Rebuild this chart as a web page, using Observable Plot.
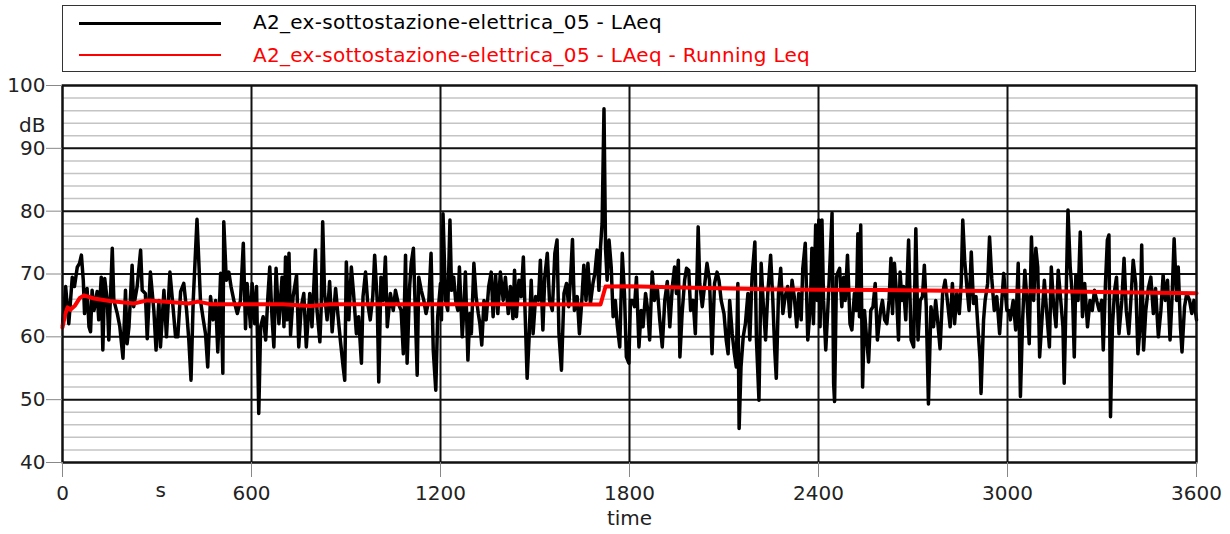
<!DOCTYPE html>
<html>
<head>
<meta charset="utf-8">
<script src="https://cdn.jsdelivr.net/npm/d3@7"></script>
<script src="https://cdn.jsdelivr.net/npm/@observablehq/plot@0.6"></script>
<style>
  html, body { margin: 0; padding: 0; background: #fff; }
  body { width: 1230px; height: 534px; position: relative; overflow: hidden; font-family: "DejaVu Sans", sans-serif; }
  #legend { position: absolute; left: 62px; top: 5px; width: 1132px; height: 65px; border: 1.5px solid #333; box-sizing: content-box; }
  .lg-row { position: absolute; left: 0; height: 30px; width: 100%; }
  .lg-line { position: absolute; left: 16px; width: 142px; }
  .lg-text { position: absolute; left: 190px; font-size: 20px; line-height: 30px; white-space: nowrap; letter-spacing: 0.3px; }
  #chart { position: absolute; left: 0; top: 72px; }
</style>
</head>
<body>
<div id="legend"></div>
<div id="chart"></div>
<script>
// ---- data ----
const seriesNames = ["A2_ex-sottostazione-elettrica_05 - LAeq", "A2_ex-sottostazione-elettrica_05 - LAeq - Running Leq"];
const seriesColors = ["#000000", "#ff0000"];

const timeS = [0,10,20,31,38,47,54,60,66,70,78,84,89,94,100,110,115,123,128,134,142,147,158,163,174,182,192,200,205,211,221,226,237,248,253,263,269,279,290,297,306,311,322,330,341,348,359,366,375,385,394,401,408,415,422,427,433,438,447,454,461,470,478,486,493,502,509,512,520,528,535,544,555,565,574,581,586,597,
602,610,616,623,629,637,645,652,658,665,671,678,687,697,703,708,713,719,724,732,743,750,758,766,774,785,792,803,808,817,821,826,832,840,848,856,867,874,882,891,896,901,909,917,924,933,940,949,954,962,969,977,985,991,999,1004,1011,1018,1025,1031,1041,1050,1057,1066,1075,1082,1089,1094,1102,1107,1114,1119,1126,1131,1139,1147,1154,1163,1170,1177,1185,1191,1200,
1203,1208,1216,1223,1230,1235,1242,1248,1255,1260,1269,1274,1279,1287,1293,1298,1306,1313,1320,1325,1331,1338,1345,1353,1361,1367,1375,1382,1390,1399,1406,1415,1422,1430,1435,1441,1449,1456,1463,1470,1475,1481,1488,1494,1502,1511,1517,1525,1531,1539,1546,1555,1563,1570,1576,1584,1592,1600,1607,1613,1619,1625,1634,1641,1648,1655,1662,1668,1676,1684,1690,1697,1703,1708,1713,1719,1724,1729,1735,1742,1748,1755,1761,1769,1777,1784,1790,1798,1803,
1809,1816,1822,1830,1837,1843,1851,1858,1864,1872,1879,1888,1896,1904,1912,1920,1928,1936,1943,1949,1955,1960,1967,1975,1981,1988,1994,2002,2009,2015,2018,2023,2031,2038,2046,2054,2062,2070,2078,2084,2091,2100,2107,2113,2118,2126,2133,2139,2144,2148,2154,2161,2168,2176,2182,2189,2198,2203,2211,2218,2224,2232,2239,2248,2255,2261,2266,2273,2280,2287,2294,2302,2309,2316,2323,2331,2337,2345,2350,2358,2366,2374,2379,2384,2391,2396,2401,
2405,2411,2416,2423,2430,2437,2443,2448,2451,2457,2462,2467,2474,2480,2485,2492,2500,2506,2514,2520,2525,2530,2534,2540,2546,2553,2559,2566,2573,2580,2587,2597,2603,2610,2617,2624,2630,2635,2641,2647,2654,2659,2665,2670,2677,2686,2694,2702,2709,2716,2723,2730,2736,2742,2749,2757,2765,2772,2779,2786,2794,2802,2809,2818,2825,2832,2839,2847,2853,2858,2864,2871,2878,2885,2892,2900,2906,2913,2916,2924,2929,2937,2943,2950,2958,2966,2975,2982,2988,2998,
3005,3009,3018,3026,3034,3041,3048,3055,3062,3069,3076,3083,3090,3096,3102,3110,3117,3124,3133,3139,3146,3154,3161,3169,3176,3180,3187,3192,3199,3207,3212,3217,3224,3231,3238,3245,3254,3262,3269,3276,3283,3291,3299,3304,3311,3317,3322,3327,3333,3340,3346,3354,3363,3370,3377,3385,3393,3399,3407,3414,3421,3426,3432,3439,3447,3455,3463,3470,3479,3487,3494,3501,3508,3516,3522,3529,3537,3542,3549,3554,3562,3569,3578,3585,3592,3600];

const laeq = [61.8,68.0,62.1,69.5,68.0,71.1,71.7,73.0,69.0,63.7,67.7,61.6,60.8,67.4,64.2,67.2,62.7,69.5,57.9,69.3,65.8,59.5,74.1,65.8,63.7,61.6,56.6,67.4,58.9,61.6,71.4,64.8,68.0,73.8,67.4,66.9,59.7,70.3,64.2,57.9,65.8,58.4,67.4,60.0,70.3,66.4,60.0,60.0,67.2,68.5,64.2,59.5,53.1,65.8,73.3,78.7,71.7,65.8,62.7,60.5,55.2,66.4,62.7,65.8,57.6,70.1,54.2,78.3,69.0,70.3,68.0,65.8,63.7,65.8,74.9,61.3,68.5,61.6,
68.5,62.1,68.0,47.8,61.6,63.2,59.5,66.4,71.1,63.2,58.4,70.9,62.1,69.5,61.6,72.7,62.7,73.3,60.3,66.4,69.8,58.4,64.8,66.9,58.4,66.9,61.6,73.8,64.2,59.2,64.2,78.3,66.9,62.7,68.8,60.8,67.7,63.7,59.5,55.2,53.1,71.9,62.7,71.1,66.9,60.5,63.2,55.8,66.4,70.3,65.3,62.7,66.4,73.0,65.8,52.8,69.5,65.8,72.7,61.6,66.9,64.2,67.4,65.3,64.2,57.3,73.0,55.8,68.0,71.7,74.1,65.8,53.9,69.5,67.4,65.8,63.7,65.8,73.3,57.9,51.5,63.2,68.5,
62.7,79.6,65.8,64.2,78.6,67.4,69.5,65.8,64.2,71.1,60.0,64.2,70.3,56.3,63.7,60.5,71.7,66.4,63.7,62.1,58.7,65.8,62.7,68.0,70.3,63.2,69.8,63.7,70.3,65.8,69.5,63.7,68.0,62.9,70.6,63.2,69.0,66.4,72.7,61.6,53.4,59.5,69.0,60.5,66.4,65.8,72.2,61.1,69.5,73.3,65.8,64.2,73.3,75.4,60.5,54.7,66.9,68.5,64.8,69.5,75.5,64.2,66.4,60.5,65.3,71.4,65.8,71.7,65.3,68.5,70.1,73.8,67.4,74.3,78.0,96.3,74.0,69.0,75.4,71.1,63.2,65.8,61.9,58.4,73.3,66.9,56.8,55.8,65.8,
65.8,64.8,69.5,58.4,64.2,61.6,66.9,64.2,59.5,70.3,65.8,68.0,62.7,58.4,65.8,68.8,61.6,68.0,71.1,66.9,72.2,56.8,63.7,69.0,70.9,70.6,64.2,65.8,60.5,71.1,77.5,68.5,64.8,68.0,71.7,69.0,57.3,68.5,70.3,69.0,65.8,63.7,59.5,57.3,65.8,60.5,57.3,55.2,68.5,45.4,55.2,60.0,62.1,66.9,59.5,69.5,75.1,59.5,49.9,71.7,65.8,59.5,66.9,73.0,65.8,57.9,53.4,66.9,70.9,63.7,66.4,68.0,63.2,69.0,66.4,61.6,66.9,62.7,70.8,74.9,59.5,64.8,74.1,62.1,77.8,65.8,78.6,
61.6,78.6,65.8,57.9,64.8,72.5,79.7,52.6,49.7,69.5,70.3,70.9,64.8,69.5,65.8,73.0,62.1,61.1,66.9,64.2,76.4,63.2,77.8,52.0,64.2,59.5,56.0,64.2,64.8,68.5,59.5,64.2,65.8,62.7,62.1,65.8,72.5,63.7,71.7,67.4,59.5,70.3,65.8,68.0,62.7,75.4,59.5,58.4,77.2,59.5,65.8,66.4,71.4,64.8,49.3,64.8,61.6,65.8,62.1,58.1,66.9,69.0,65.8,61.6,68.5,62.1,66.9,63.7,68.5,78.6,72.2,68.0,64.2,73.5,65.3,66.4,61.6,56.3,51.0,62.7,65.8,68.5,75.9,69.3,64.2,66.4,60.5,65.8,70.1,64.2,
64.2,62.7,65.8,61.1,71.7,50.5,62.7,70.6,65.8,58.9,75.9,65.8,74.1,71.1,56.8,63.2,69.0,64.2,58.4,71.1,65.3,61.6,70.6,65.8,61.6,52.6,68.5,80.2,71.1,65.8,56.8,69.8,65.8,76.7,63.2,68.5,61.6,65.8,64.2,67.4,65.8,64.2,65.8,57.9,68.5,75.4,76.2,47.3,61.6,67.4,69.5,60.5,65.8,72.5,64.2,60.5,66.9,72.2,68.5,57.3,61.6,74.6,57.9,64.2,67.7,69.5,63.7,67.7,60.0,64.2,69.8,65.8,69.0,59.5,65.8,75.6,65.8,71.1,61.6,57.6,64.8,66.9,65.8,63.7,65.8,62.7];

const runTimeS = [0,8,16,25,40,55,68,100,150,226,270,330,400,430,470,600,700,787,850,1000,1200,1400,1708,1724,1800,2000,2200,2400,2600,2800,3000,3200,3400,3600];
const runLeq   = [61.5,63.5,64.7,64.3,65.0,66.2,66.6,66.1,65.7,65.3,65.8,65.6,65.3,65.6,65.2,65.2,65.2,64.9,65.2,65.2,65.2,65.2,65.15,68.0,68.05,67.8,67.6,67.5,67.45,67.35,67.3,67.2,67.05,66.95];

const yMajor = [40,50,60,70,80,90,100];
const yMinor = [42,44,46,48,52,54,56,58,62,64,66,68,72,74,76,78,82,84,86,88,92,94,96,98];
const xTicks = [0,600,1200,1800,2400,3000,3600];
const yUnit = "dB";
const xUnit = "s";
const xTitle = "time";

// ---- legend ----
const legend = document.getElementById("legend");
seriesNames.forEach((name, i) => {
  const row = document.createElement("div");
  row.className = "lg-row";
  row.style.top = (i === 0 ? 1 : 34) + "px";
  const ln = document.createElement("div");
  ln.className = "lg-line";
  ln.style.top = (i === 0 ? 15 : 14) + "px";
  ln.style.height = (i === 0 ? 3 : 2) + "px";
  ln.style.background = seriesColors[i];
  const tx = document.createElement("div");
  tx.className = "lg-text";
  tx.style.color = seriesColors[i];
  tx.textContent = name;
  row.appendChild(ln); row.appendChild(tx);
  legend.appendChild(row);
});

// ---- chart ----
const lineData = timeS.map((t, i) => ({t, v: laeq[i]}));
const runData = runTimeS.map((t, i) => ({t, v: runLeq[i]}));

const chart = Plot.plot({
  width: 1230,
  height: 462,
  marginLeft: 62,
  marginRight: 34,
  marginTop: 13,
  marginBottom: 72,
  x: {domain: [0, 3600]},
  y: {domain: [40, 100]},
  style: {fontFamily: "DejaVu Sans, sans-serif", fontSize: "20px", color: "#222", background: "#fff", overflow: "visible"},
  marks: [
    Plot.ruleY(yMinor, {stroke: "#c4c4c4", strokeWidth: 1.5}),
    Plot.ruleY(yMajor, {stroke: "#111", strokeWidth: 2}),
    Plot.ruleX(xTicks, {stroke: "#111", strokeWidth: 2}),
    Plot.line(lineData, {x: "t", y: "v", stroke: seriesColors[0], strokeWidth: 3.5, strokeLinejoin: "round"}),
    Plot.line(runData, {x: "t", y: "v", stroke: seriesColors[1], strokeWidth: 4}),
    Plot.frame({stroke: "#111", strokeWidth: 2}),
    Plot.axisY(yMajor, {tickSize: 16, tickPadding: 1, stroke: "#888", fill: "#222", fontSize: 20, label: null}),
    Plot.axisX(xTicks, {tickSize: 15, tickPadding: 8, stroke: "#888", fill: "#222", fontSize: 20, label: null, tickFormat: d => String(d)}),
    Plot.text([yUnit], {frameAnchor: "top-left", dx: -17, dy: 32, textAnchor: "end", fontSize: 20, fill: "#222"}),
    Plot.text([xUnit], {frameAnchor: "bottom-left", dx: 93, dy: 34, fontSize: 20, fill: "#222"}),
    Plot.text([xTitle], {frameAnchor: "bottom", dy: 62, fontSize: 20, fill: "#222"})
  ]
});
document.getElementById("chart").appendChild(chart);
</script>
</body>
</html>
